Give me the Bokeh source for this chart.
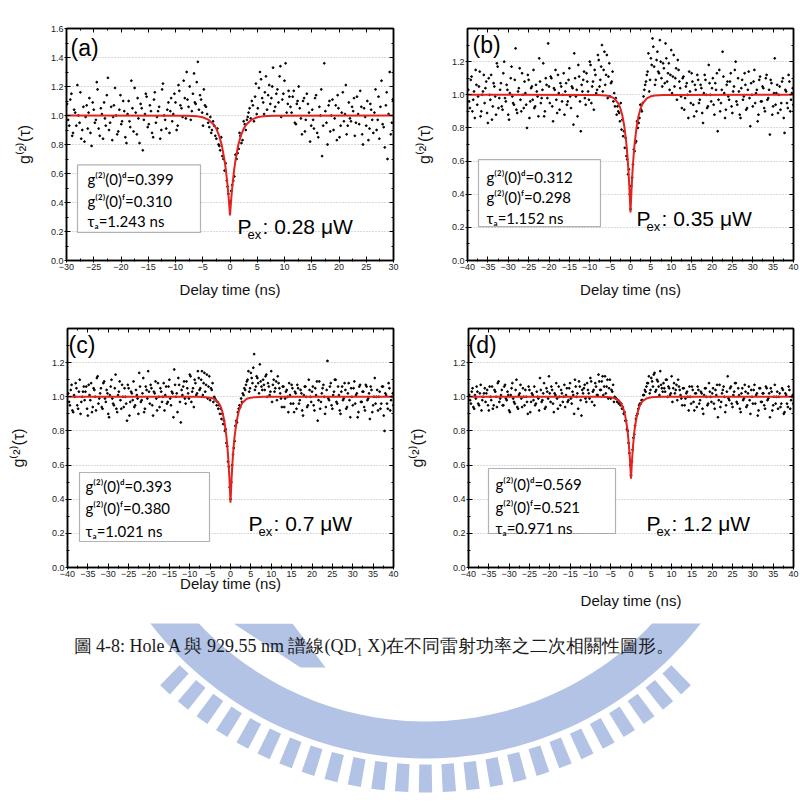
import numpy as np
from bokeh.plotting import figure
from bokeh.layouts import column, row
from bokeh.models import Range1d, LinearAxis, SingleIntervalTicker, BoxAnnotation, PrintfTickFormatter
from bokeh.core.properties import value
from bokeh.embed import file_html
from bokeh.resources import INLINE

# ---------------- data ----------------
delay_60 = [
    -29.9, -29.5, -29.1, -28.8, -28.4, -28.0, -27.6, -27.3, -26.9, -26.5,
    -26.1, -25.8, -25.4, -25.0, -24.6, -24.3, -23.9, -23.5, -23.1, -22.8,
    -22.4, -22.0, -21.6, -21.3, -20.9, -20.5, -20.1, -19.8, -19.4, -19.0,
    -18.6, -18.3, -17.9, -17.5, -17.1, -16.8, -16.4, -16.0, -15.6, -15.3,
    -14.9, -14.5, -14.1, -13.8, -13.4, -13.0, -12.6, -12.3, -11.9, -11.5,
    -11.1, -10.8, -10.4, -10.0, -9.6, -9.3, -8.9, -8.5, -8.1, -7.8,
    -7.4, -7.0, -6.6, -6.3, -5.9, -5.5, -5.1, -4.8, -4.4, -4.0,
    -3.6, -3.3, -2.9, -2.5, -2.1, -1.8, -1.4, -1.0, -0.6, -0.3,
    0.1, 0.4, 0.8, 1.2, 1.6, 1.9, 2.3, 2.7, 3.1, 3.4,
    3.8, 4.2, 4.6, 4.9, 5.3, 5.7, 6.1, 6.4, 6.8, 7.2,
    7.6, 7.9, 8.3, 8.7, 9.1, 9.4, 9.8, 10.2, 10.6, 10.9,
    11.3, 11.7, 12.1, 12.4, 12.8, 13.2, 13.6, 13.9, 14.3, 14.7,
    15.1, 15.4, 15.8, 16.2, 16.6, 16.9, 17.3, 17.7, 18.1, 18.4,
    18.8, 19.2, 19.6, 19.9, 20.3, 20.7, 21.1, 21.4, 21.8, 22.2,
    22.6, 22.9, 23.3, 23.7, 24.1, 24.4, 24.8, 25.2, 25.6, 25.9,
    26.3, 26.7, 27.1, 27.4, 27.8, 28.2, 28.6, 28.9, 29.3, 29.7,
]
g2_a = [
    1.08, 0.93, 1.15, 0.88, 1.02, 1.21, 0.95, 0.84, 1.06, 0.99,
    0.91, 1.12, 0.79, 1.04, 0.97, 1.18, 0.86, 1.01, 1.09, 0.93,
    1.26, 0.95, 0.83, 1.07, 1.00, 0.89, 1.14, 0.96, 1.03, 0.81,
    1.10, 0.92, 1.05, 1.19, 0.87, 0.98, 1.08, 0.76, 1.01, 1.13,
    0.94, 1.03, 0.85, 1.16, 0.99, 1.06, 0.90, 1.22, 0.97, 1.04,
    0.88, 1.12, 1.01, 1.09, 0.93, 1.17, 1.05, 1.24, 0.98, 1.11,
    1.20, 1.03, 1.29, 1.08, 1.37, 1.14, 1.02, 1.18, 1.06, 0.95,
    0.99, 0.90, 0.93, 0.84, 0.80, 0.76, 0.72, 0.62, 0.55, 0.46,
    0.41, 0.52, 0.58, 0.70, 0.77, 0.86, 0.83, 0.94, 0.97, 1.02,
    0.98, 1.07, 1.13, 1.01, 1.19, 1.25, 1.09, 1.16, 1.04, 1.21,
    1.12, 1.33, 1.06, 1.18, 1.27, 0.99, 1.15, 1.36, 1.08, 1.13,
    1.02, 1.17, 0.94, 1.10, 1.05, 0.87, 1.12, 0.97, 1.08, 0.82,
    1.04, 0.91, 1.14, 0.85, 1.00, 0.72, 1.36, 0.95, 1.07, 0.89,
    1.11, 0.98, 0.83, 1.05, 0.93, 1.16, 1.01, 0.87, 1.09, 0.96,
    1.03, 0.86, 1.13, 0.94, 1.06, 0.80, 0.99, 1.10, 0.91, 1.04,
    0.88, 1.18, 0.97, 0.84, 1.24, 0.92, 1.07, 0.70, 1.30, 0.95,
]
delay_60_2 = [
    -29.7, -29.3, -28.95, -28.6, -28.2, -27.8, -27.45, -27.1, -26.7, -26.3,
    -25.95, -25.6, -25.2, -24.8, -24.45, -24.1, -23.7, -23.3, -22.95, -22.6,
    -22.2, -21.8, -21.45, -21.1, -20.7, -20.3, -19.95, -19.6, -19.2, -18.8,
    -18.45, -18.1, -17.7, -17.3, -16.95, -16.6, -16.2, -15.8, -15.45, -15.1,
    -14.7, -14.3, -13.95, -13.6, -13.2, -12.8, -12.45, -12.1, -11.7, -11.3,
    -10.95, -10.6, -10.2, -9.8, -9.45, -9.1, -8.7, -8.3, -7.95, -7.6,
    -7.2, -6.8, -6.45, -6.1, -5.7, -5.3, -4.95, -4.6, -4.2, -3.8,
    -3.45, -3.1, -2.7, -2.3, -1.95, -1.6, -1.2, -0.8, -0.45, -0.1,
    0.25, 0.6, 1.0, 1.4, 1.75, 2.1, 2.5, 2.9, 3.25, 3.6,
    4.0, 4.4, 4.75, 5.1, 5.5, 5.9, 6.25, 6.6, 7.0, 7.4,
    7.75, 8.1, 8.5, 8.9, 9.25, 9.6, 10.0, 10.4, 10.75, 11.1,
    11.5, 11.9, 12.25, 12.6, 13.0, 13.4, 13.75, 14.1, 14.5, 14.9,
    15.25, 15.6, 16.0, 16.4, 16.75, 17.1, 17.5, 17.9, 18.25, 18.6,
    19.0, 19.4, 19.75, 20.1, 20.5, 20.9, 21.25, 21.6, 22.0, 22.4,
    22.75, 23.1, 23.5, 23.9, 24.25, 24.6, 25.0, 25.4, 25.75, 26.1,
    26.5, 26.9, 27.25, 27.6, 28.0, 28.4, 28.75, 29.1, 29.5, 29.85,
]
g2_a_2 = [
    0.97, 1.11, 0.86, 1.04, 0.93, 1.00, 1.16, 0.90, 0.82, 1.07,
    1.02, 0.88, 1.09, 0.95, 1.23, 0.91, 1.05, 0.84, 0.98, 1.14,
    0.90, 1.06, 0.99, 1.19, 0.87, 1.04, 0.94, 1.10, 0.85, 1.01,
    0.96, 1.24, 0.89, 1.02, 1.12, 0.81, 1.05, 0.97, 1.15, 0.92,
    1.07, 0.88, 1.11, 0.95, 1.03, 0.84, 1.18, 1.00, 0.91, 1.09,
    1.03, 0.96, 1.15, 0.90, 1.21, 1.07, 0.99, 1.12, 1.30, 1.06,
    0.97, 1.15, 1.09, 1.23, 1.04, 1.11, 0.93, 1.07, 1.01, 0.92,
    0.88, 0.96, 0.86, 0.91, 0.79, 0.85, 0.70, 0.67, 0.51, 0.40,
    0.48, 0.55, 0.73, 0.74, 0.88, 0.81, 0.96, 0.90, 0.99, 1.05,
    1.10, 0.96, 1.22, 1.05, 1.30, 1.12, 1.01, 1.27, 1.14, 1.08,
    1.20, 1.03, 1.15, 1.09, 1.34, 1.11, 1.24, 1.02, 1.17, 1.06,
    1.13, 0.95, 1.08, 1.20, 0.98, 1.10, 0.89, 1.15, 1.02, 0.93,
    0.97, 1.12, 0.88, 1.06, 1.18, 0.93, 1.03, 0.80, 1.10, 1.00,
    0.90, 1.07, 1.14, 0.85, 1.02, 0.96, 1.21, 0.93, 0.98, 1.06,
    1.12, 0.95, 1.01, 1.17, 0.87, 1.05, 0.93, 0.83, 1.08, 0.97,
    1.02, 0.90, 1.13, 1.06, 0.94, 0.78, 1.16, 1.01, 0.87, 1.11,
]
delay_80 = [
    -39.8, -39.4, -39.0, -38.6, -38.2, -37.8, -37.4, -37.0, -36.6, -36.2,
    -35.8, -35.4, -35.0, -34.6, -34.2, -33.8, -33.4, -33.0, -32.6, -32.2,
    -31.8, -31.4, -31.0, -30.6, -30.2, -29.8, -29.4, -29.0, -28.6, -28.2,
    -27.8, -27.4, -27.0, -26.6, -26.2, -25.8, -25.4, -25.0, -24.6, -24.2,
    -23.8, -23.4, -23.0, -22.6, -22.2, -21.8, -21.4, -21.0, -20.6, -20.2,
    -19.8, -19.4, -19.0, -18.6, -18.2, -17.8, -17.4, -17.0, -16.6, -16.2,
    -15.8, -15.4, -15.0, -14.6, -14.2, -13.8, -13.4, -13.0, -12.6, -12.2,
    -11.8, -11.4, -11.0, -10.6, -10.2, -9.8, -9.4, -9.0, -8.6, -8.2,
    -7.8, -7.4, -7.0, -6.6, -6.2, -5.8, -5.4, -5.0, -4.6, -4.2,
    -3.8, -3.4, -3.0, -2.6, -2.2, -1.8, -1.4, -1.0, -0.6, -0.2,
    0.2, 0.6, 1.0, 1.4, 1.8, 2.2, 2.6, 3.0, 3.4, 3.8,
    4.2, 4.6, 5.0, 5.4, 5.8, 6.2, 6.6, 7.0, 7.4, 7.8,
    8.2, 8.6, 9.0, 9.4, 9.8, 10.2, 10.6, 11.0, 11.4, 11.8,
    12.2, 12.6, 13.0, 13.4, 13.8, 14.2, 14.6, 15.0, 15.4, 15.8,
    16.2, 16.6, 17.0, 17.4, 17.8, 18.2, 18.6, 19.0, 19.4, 19.8,
    20.2, 20.6, 21.0, 21.4, 21.8, 22.2, 22.6, 23.0, 23.4, 23.8,
    24.2, 24.6, 25.0, 25.4, 25.8, 26.2, 26.6, 27.0, 27.4, 27.8,
    28.2, 28.6, 29.0, 29.4, 29.8, 30.2, 30.6, 31.0, 31.4, 31.8,
    32.2, 32.6, 33.0, 33.4, 33.8, 34.2, 34.6, 35.0, 35.4, 35.8,
    36.2, 36.6, 37.0, 37.4, 37.8, 38.2, 38.6, 39.0, 39.4, 39.8,
]
delay_80_2 = [
    -39.6, -39.2, -38.8, -38.4, -38.0, -37.6, -37.2, -36.8, -36.4, -36.0,
    -35.6, -35.2, -34.8, -34.4, -34.0, -33.6, -33.2, -32.8, -32.4, -32.0,
    -31.6, -31.2, -30.8, -30.4, -30.0, -29.6, -29.2, -28.8, -28.4, -28.0,
    -27.6, -27.2, -26.8, -26.4, -26.0, -25.6, -25.2, -24.8, -24.4, -24.0,
    -23.6, -23.2, -22.8, -22.4, -22.0, -21.6, -21.2, -20.8, -20.4, -20.0,
    -19.6, -19.2, -18.8, -18.4, -18.0, -17.6, -17.2, -16.8, -16.4, -16.0,
    -15.6, -15.2, -14.8, -14.4, -14.0, -13.6, -13.2, -12.8, -12.4, -12.0,
    -11.6, -11.2, -10.8, -10.4, -10.0, -9.6, -9.2, -8.8, -8.4, -8.0,
    -7.6, -7.2, -6.8, -6.4, -6.0, -5.6, -5.2, -4.8, -4.4, -4.0,
    -3.6, -3.2, -2.8, -2.4, -2.0, -1.6, -1.2, -0.8, -0.4, 0.0,
    0.4, 0.8, 1.2, 1.6, 2.0, 2.4, 2.8, 3.2, 3.6, 4.0,
    4.4, 4.8, 5.2, 5.6, 6.0, 6.4, 6.8, 7.2, 7.6, 8.0,
    8.4, 8.8, 9.2, 9.6, 10.0, 10.4, 10.8, 11.2, 11.6, 12.0,
    12.4, 12.8, 13.2, 13.6, 14.0, 14.4, 14.8, 15.2, 15.6, 16.0,
    16.4, 16.8, 17.2, 17.6, 18.0, 18.4, 18.8, 19.2, 19.6, 20.0,
    20.4, 20.8, 21.2, 21.6, 22.0, 22.4, 22.8, 23.2, 23.6, 24.0,
    24.4, 24.8, 25.2, 25.6, 26.0, 26.4, 26.8, 27.2, 27.6, 28.0,
    28.4, 28.8, 29.2, 29.6, 30.0, 30.4, 30.8, 31.2, 31.6, 32.0,
    32.4, 32.8, 33.2, 33.6, 34.0, 34.4, 34.8, 35.2, 35.6, 36.0,
    36.4, 36.8, 37.2, 37.6, 38.0, 38.4, 38.8, 39.2, 39.6, 39.95,
]
g2_b = [
    1.03, 0.92, 1.11, 0.97, 0.86, 1.06, 0.99, 1.14, 0.90, 1.02,
    0.95, 1.08, 0.83, 1.00, 1.12, 0.93, 1.05, 0.88, 1.17, 0.98,
    1.07, 0.91, 1.20, 0.96, 1.03, 0.85, 1.10, 0.99, 0.94, 1.28,
    0.89, 1.04, 0.97, 1.13, 0.92, 1.01, 0.80, 1.09, 0.96, 1.05,
    1.15, 0.93, 1.02, 0.87, 1.08, 0.98, 1.19, 0.90, 1.06, 1.31,
    0.95, 1.10, 0.84, 1.03, 0.97, 1.12, 0.91, 1.05, 1.00, 0.88,
    1.07, 0.96, 1.16, 0.92, 1.04, 1.25, 0.99, 0.87, 1.11, 0.78,
    1.02, 1.14, 0.94, 1.08, 0.97, 1.18, 1.05, 0.91, 1.12, 1.03,
    1.21, 1.09, 1.30, 1.15, 1.06, 1.24, 1.11, 0.99, 1.08, 0.96,
    0.93, 0.88, 0.90, 0.84, 0.79, 0.75, 0.68, 0.63, 0.52, 0.40,
    0.45, 0.58, 0.66, 0.72, 0.80, 0.86, 0.91, 0.95, 1.03, 1.08,
    1.14, 1.02, 1.22, 1.34, 1.17, 1.09, 1.26, 1.13, 1.20, 1.05,
    1.16, 1.31, 1.08, 1.19, 1.12, 1.01, 1.24, 1.10, 0.97, 1.15,
    1.04, 0.92, 1.11, 0.98, 1.07, 0.86, 1.02, 1.13, 0.94, 1.06,
    0.90, 1.09, 0.97, 1.04, 0.83, 1.12, 1.00, 0.93, 1.07, 0.96,
    1.10, 0.88, 1.03, 0.78, 1.15, 0.95, 1.26, 1.01, 0.91, 1.08,
    0.97, 1.13, 0.89, 1.05, 1.20, 0.94, 1.02, 0.86, 1.09, 0.99,
    1.06, 0.92, 1.14, 0.81, 1.00, 1.08, 0.95, 1.03, 0.88, 1.11,
    0.96, 1.04, 0.90, 1.12, 0.98, 0.76, 1.07, 0.93, 1.22, 1.01,
    0.89, 1.05, 0.95, 1.10, 0.77, 1.02, 0.92, 1.08, 0.97, 1.04,
]
g2_b_2 = [
    0.96, 1.09, 0.90, 1.02, 1.15, 0.94, 1.05, 0.87, 1.00, 1.12,
    1.04, 0.89, 1.10, 0.97, 0.85, 1.07, 0.99, 1.19, 0.92, 1.03,
    0.93, 1.13, 0.98, 1.06, 0.88, 1.01, 1.17, 0.95, 1.09, 0.91,
    1.02, 1.16, 0.90, 1.00, 1.08, 0.94, 1.12, 0.86, 1.04, 0.97,
    0.92, 1.06, 0.99, 1.22, 0.95, 1.03, 0.87, 1.10, 0.98, 1.05,
    1.11, 0.93, 1.04, 1.15, 0.89, 1.01, 1.07, 0.96, 1.13, 1.02,
    0.94, 1.09, 0.99, 1.05, 0.82, 1.10, 1.03, 1.18, 0.96, 1.06,
    1.09, 0.98, 1.13, 1.02, 1.20, 0.95, 1.08, 1.15, 1.01, 1.24,
    1.05, 1.17, 1.02, 1.26, 1.12, 0.98, 1.19, 1.07, 1.14, 1.01,
    0.98, 0.93, 0.89, 0.95, 0.85, 0.78, 0.74, 0.61, 0.55, 0.31,
    0.50, 0.67, 0.71, 0.84, 0.83, 0.94, 0.90, 0.99, 1.06, 1.12,
    1.25, 1.09, 1.18, 1.29, 1.06, 1.21, 1.14, 1.33, 1.10, 1.19,
    1.07, 1.22, 1.13, 1.03, 1.27, 1.11, 1.05, 1.16, 1.21, 1.08,
    0.99, 1.10, 0.91, 1.05, 1.00, 1.14, 0.95, 1.08, 0.87, 1.03,
    1.12, 0.95, 1.06, 0.89, 1.01, 1.09, 0.92, 1.18, 1.00, 1.04,
    0.94, 1.07, 1.13, 0.97, 0.90, 1.03, 1.11, 0.86, 1.06, 0.99,
    1.08, 0.93, 1.02, 1.15, 0.96, 1.10, 0.88, 1.04, 0.97, 1.13,
    0.91, 1.03, 0.98, 1.07, 0.93, 1.15, 1.01, 0.84, 1.09, 0.96,
    1.05, 0.92, 1.10, 0.97, 1.03, 1.09, 0.88, 1.01, 0.94, 1.06,
    1.00, 0.91, 1.08, 0.86, 1.03, 0.95, 1.12, 0.90, 1.01, 0.94,
]
g2_c = [
    1.02, 0.95, 1.07, 0.91, 1.00, 1.05, 0.93, 1.10, 0.97, 1.03,
    0.98, 1.06, 0.89, 1.01, 1.08, 0.94, 1.04, 0.92, 1.12, 0.99,
    1.05, 0.93, 1.09, 0.97, 1.02, 0.88, 1.06, 0.99, 0.95, 1.13,
    0.91, 1.03, 0.98, 1.07, 0.94, 1.00, 0.86, 1.05, 0.97, 1.02,
    1.09, 0.95, 1.01, 0.90, 1.06, 0.98, 1.11, 0.93, 1.04, 1.15,
    0.96, 1.05, 0.89, 1.02, 0.99, 1.08, 0.94, 1.03, 1.00, 0.92,
    1.06, 0.97, 1.10, 0.95, 1.02, 1.16, 1.00, 0.91, 1.07, 0.85,
    1.01, 1.09, 0.96, 1.05, 0.99, 1.12, 1.03, 0.94, 1.08, 1.02,
    1.11, 1.05, 1.15, 1.08, 1.03, 1.13, 1.06, 0.98, 1.04, 0.97,
    0.99, 0.95, 0.93, 0.90, 0.87, 0.84, 0.80, 0.73, 0.62, 0.47,
    0.50, 0.66, 0.74, 0.86, 0.91, 0.95, 0.99, 1.02, 1.05, 1.07,
    1.10, 1.03, 1.14, 1.08, 1.25, 1.06, 1.11, 1.02, 1.09, 1.04,
    1.07, 1.12, 1.00, 1.06, 1.03, 0.97, 1.10, 1.05, 0.98, 1.08,
    1.02, 0.94, 1.06, 0.99, 1.04, 0.91, 1.01, 1.07, 0.96, 1.03,
    0.93, 1.05, 0.98, 1.02, 0.89, 1.06, 1.00, 0.95, 1.04, 0.97,
    1.06, 0.92, 1.01, 0.86, 1.09, 0.97, 1.05, 1.00, 0.94, 1.21,
    0.98, 1.08, 0.93, 1.03, 1.10, 0.96, 1.01, 0.90, 1.06, 0.99,
    1.04, 0.94, 1.08, 0.88, 1.00, 1.05, 0.96, 1.02, 0.91, 1.07,
    0.97, 1.03, 0.92, 1.06, 0.99, 0.87, 1.04, 0.95, 1.11, 1.00,
    0.92, 1.03, 0.96, 1.06, 0.80, 1.01, 0.93, 1.05, 0.98, 1.02,
]
g2_c_2 = [
    0.97, 1.04, 0.92, 1.01, 1.08, 0.95, 1.03, 0.90, 1.00, 1.06,
    1.03, 0.93, 1.07, 0.98, 0.91, 1.05, 1.00, 1.11, 0.96, 1.02,
    0.94, 1.08, 0.99, 1.04, 0.90, 1.01, 1.10, 0.96, 1.05, 0.93,
    1.01, 1.09, 0.93, 1.00, 1.05, 0.96, 1.07, 0.89, 1.03, 0.98,
    0.94, 1.04, 0.99, 1.14, 0.97, 1.02, 0.91, 1.06, 0.99, 1.03,
    1.07, 0.95, 1.03, 1.09, 0.92, 1.00, 1.05, 0.97, 1.08, 1.01,
    0.96, 1.06, 0.99, 1.03, 0.88, 1.07, 1.02, 1.11, 0.97, 1.04,
    1.06, 0.99, 1.09, 1.02, 1.13, 0.97, 1.05, 1.10, 1.01, 1.15,
    1.04, 1.10, 1.01, 1.14, 1.07, 0.99, 1.12, 1.05, 1.08, 1.00,
    0.98, 0.97, 0.95, 0.93, 0.90, 0.86, 0.81, 0.71, 0.59, 0.40,
    0.60, 0.70, 0.83, 0.85, 0.93, 0.94, 0.97, 1.01, 1.04, 1.09,
    1.15, 1.05, 1.11, 1.17, 1.04, 1.12, 1.08, 1.19, 1.06, 1.10,
    1.04, 1.13, 1.08, 1.01, 1.15, 1.07, 1.03, 1.09, 1.12, 1.05,
    0.99, 1.06, 0.94, 1.03, 1.00, 1.08, 0.96, 1.05, 0.91, 1.02,
    1.07, 0.96, 1.04, 0.92, 1.01, 1.06, 0.94, 1.10, 1.00, 1.03,
    0.95, 1.05, 1.09, 0.98, 0.93, 1.02, 1.07, 0.90, 1.04, 0.99,
    1.06, 0.95, 1.01, 1.10, 0.97, 1.06, 0.92, 1.03, 0.98, 1.08,
    0.93, 1.02, 0.98, 1.05, 0.95, 1.09, 1.01, 0.88, 1.06, 0.97,
    1.03, 0.94, 1.07, 0.98, 1.02, 1.06, 0.91, 1.00, 0.96, 1.04,
    1.00, 0.93, 1.06, 0.89, 1.02, 0.96, 1.08, 0.92, 1.00, 0.95,
]
g2_d = [
    1.01, 0.96, 1.05, 0.93, 0.99, 1.03, 0.95, 1.07, 0.98, 1.02,
    0.97, 1.04, 0.92, 1.00, 1.06, 0.95, 1.03, 0.94, 1.09, 0.99,
    1.04, 0.95, 1.07, 0.98, 1.01, 0.91, 1.05, 0.99, 0.96, 1.10,
    0.93, 1.02, 0.99, 1.05, 0.95, 1.00, 0.90, 1.04, 0.97, 1.01,
    1.06, 0.96, 1.00, 0.92, 1.04, 0.98, 1.08, 0.94, 1.03, 1.12,
    0.97, 1.04, 0.91, 1.01, 0.99, 1.06, 0.95, 1.02, 1.00, 0.94,
    1.05, 0.98, 1.08, 0.96, 1.01, 1.10, 1.00, 0.93, 1.06, 0.89,
    1.02, 1.07, 0.97, 1.04, 0.99, 1.09, 1.03, 0.95, 1.06, 1.01,
    1.09, 1.04, 1.12, 1.06, 1.02, 1.10, 1.05, 0.99, 1.03, 0.97,
    0.99, 0.97, 0.96, 0.95, 0.93, 0.90, 0.86, 0.81, 0.73, 0.60,
    0.62, 0.76, 0.83, 0.89, 0.93, 0.96, 0.98, 1.01, 1.04, 1.06,
    1.08, 1.02, 1.11, 1.06, 1.14, 1.04, 1.09, 1.01, 1.07, 1.03,
    1.05, 1.10, 1.00, 1.05, 1.02, 0.97, 1.08, 1.04, 0.98, 1.06,
    1.01, 0.95, 1.05, 0.99, 1.03, 0.92, 1.00, 1.06, 0.97, 1.02,
    0.94, 1.04, 0.98, 1.02, 0.90, 1.05, 1.00, 0.96, 1.03, 0.97,
    1.05, 0.93, 1.01, 0.88, 1.07, 0.97, 1.04, 1.00, 0.95, 1.12,
    0.98, 1.06, 0.94, 1.03, 1.08, 0.96, 1.01, 0.91, 1.05, 0.99,
    1.03, 0.95, 1.06, 0.90, 1.00, 1.04, 0.96, 1.02, 0.92, 1.05,
    0.97, 1.02, 0.93, 1.05, 0.99, 0.88, 1.03, 0.95, 1.07, 1.00,
    0.93, 1.02, 0.96, 1.04, 0.91, 1.01, 0.94, 1.04, 0.98, 1.01,
]
g2_d_2 = [
    0.98, 1.03, 0.94, 1.01, 1.06, 0.96, 1.02, 0.92, 1.00, 1.05,
    1.02, 0.95, 1.06, 0.98, 0.93, 1.04, 1.00, 1.08, 0.97, 1.01,
    0.95, 1.06, 0.99, 1.03, 0.92, 1.01, 1.08, 0.97, 1.04, 0.94,
    1.01, 1.07, 0.94, 1.00, 1.04, 0.97, 1.06, 0.91, 1.02, 0.98,
    0.95, 1.03, 0.99, 1.11, 0.97, 1.02, 0.93, 1.05, 0.99, 1.02,
    1.06, 0.96, 1.02, 1.08, 0.93, 1.00, 1.04, 0.97, 1.07, 1.01,
    0.97, 1.05, 0.99, 1.03, 0.90, 1.06, 1.02, 1.09, 0.98, 1.04,
    1.05, 0.99, 1.08, 1.02, 1.11, 0.97, 1.04, 1.08, 1.01, 1.13,
    1.04, 1.09, 1.01, 1.12, 1.06, 0.99, 1.10, 1.04, 1.07, 1.00,
    0.99, 0.98, 0.97, 0.96, 0.94, 0.91, 0.86, 0.80, 0.67, 0.54,
    0.69, 0.78, 0.87, 0.90, 0.95, 0.96, 0.98, 1.01, 1.03, 1.08,
    1.12, 1.04, 1.09, 1.13, 1.03, 1.10, 1.06, 1.15, 1.05, 1.08,
    1.03, 1.10, 1.06, 1.01, 1.12, 1.05, 1.02, 1.07, 1.10, 1.04,
    0.99, 1.05, 0.95, 1.02, 1.00, 1.06, 0.96, 1.04, 0.92, 1.02,
    1.06, 0.96, 1.03, 0.93, 1.01, 1.05, 0.95, 1.08, 1.00, 1.02,
    0.96, 1.04, 1.07, 0.98, 0.94, 1.02, 1.06, 0.91, 1.03, 0.99,
    1.05, 0.96, 1.01, 1.08, 0.97, 1.05, 0.93, 1.02, 0.98, 1.07,
    0.94, 1.02, 0.98, 1.04, 0.96, 1.07, 1.01, 0.89, 1.05, 0.97,
    1.02, 0.95, 1.06, 0.98, 1.02, 1.05, 0.92, 1.00, 0.96, 1.03,
    1.00, 0.94, 1.05, 0.90, 1.02, 0.96, 1.06, 0.93, 1.00, 0.96,
]

# fitted curves (red)
fit_x_60 = [-30, -8, -6, -5, -4, -3, -2.5, -2, -1.5, -1, -0.75, -0.5, -0.25, 0,
            0.25, 0.5, 0.75, 1, 1.5, 2, 2.5, 3, 4, 5, 6, 8, 30]
fit_x_80 = [-40, -8, -6, -5, -4, -3, -2.5, -2, -1.5, -1, -0.75, -0.5, -0.25, 0,
            0.25, 0.5, 0.75, 1, 1.5, 2, 2.5, 3, 4, 5, 6, 8, 40]
fit_a = [1.0, 0.999, 0.994, 0.988, 0.972, 0.938, 0.908, 0.862, 0.794, 0.691, 0.622, 0.538, 0.436, 0.31,
         0.436, 0.538, 0.622, 0.691, 0.794, 0.862, 0.908, 0.938, 0.972, 0.988, 0.994, 0.999, 1.0]
fit_b = [1.0, 0.999, 0.996, 0.991, 0.978, 0.948, 0.919, 0.875, 0.807, 0.703, 0.630, 0.541, 0.428, 0.29,
         0.428, 0.541, 0.630, 0.703, 0.807, 0.875, 0.919, 0.948, 0.978, 0.991, 0.996, 0.999, 1.0]
fit_c = [1.0, 1.0, 0.998, 0.995, 0.988, 0.967, 0.947, 0.913, 0.857, 0.767, 0.703, 0.620, 0.515, 0.38,
         0.515, 0.620, 0.703, 0.767, 0.857, 0.913, 0.947, 0.967, 0.988, 0.995, 0.998, 1.0, 1.0]
fit_d = [1.0, 1.0, 0.999, 0.997, 0.992, 0.978, 0.964, 0.939, 0.898, 0.829, 0.778, 0.713, 0.629, 0.52,
         0.629, 0.713, 0.778, 0.829, 0.898, 0.939, 0.964, 0.978, 0.992, 0.997, 0.999, 1.0, 1.0]

panel_letters = ["(a)", "(b)", "(c)", "(d)"]
g2d_text = ["g⁽²⁾(0)ᵈ=0.399", "g⁽²⁾(0)ᵈ=0.312", "g⁽²⁾(0)ᵈ=0.393", "g⁽²⁾(0)ᵈ=0.569"]
g2f_text = ["g⁽²⁾(0)ᶠ=0.310", "g⁽²⁾(0)ᶠ=0.298", "g⁽²⁾(0)ᶠ=0.380", "g⁽²⁾(0)ᶠ=0.521"]
tau_text = ["τₐ=1.243 ns", "τₐ=1.152 ns", "τₐ=1.021 ns", "τₐ=0.971 ns"]
power_text = [": 0.28 μW", ": 0.35 μW", ": 0.7 μW", ": 1.2 μW"]
caption = "圖 4-8: Hole A 與 929.55 nm 譜線(QD₁ X)在不同雷射功率之二次相關性圖形。"

# ---------------- layout (page pixels) ----------------
LAY = [
    dict(fx=0, fy=0, w=400, h=300, left=66, top=27, right=393, bottom=267, xr=(-30, 30), yr=(0, 1.6),
         box=(77, 168, 200, 238), lines=(87, 183, 205, 226), P=(237, 232), xls=8, yls=15),
    dict(fx=400, fy=0, w=400, h=300, left=467, top=28, right=793, bottom=267, xr=(-40, 40), yr=(0, 1.4),
         box=(478, 163, 600, 232), lines=(486, 181, 202, 223), P=(636, 224), xls=8, yls=16),
    dict(fx=0, fy=300, w=400, h=323, left=67, top=328, right=393, bottom=567, xr=(-40, 40), yr=(0, 1.4),
         box=(79, 472, 209, 541), lines=(85, 485, 507, 530), P=(248, 523), xls=-5, yls=22),
    dict(fx=400, fy=300, w=400, h=323, left=468, top=328, right=793, bottom=567, xr=(-40, 40), yr=(0, 1.4),
         box=(488, 468, 615, 533), lines=(495, 483, 506, 527), P=(646, 523), xls=12, yls=24),
]
LETTER_POS = [(70, 34), (472, 32), (68, 331), (468, 331)]

SANS = "Liberation Sans"
BOXFONT = "Lato"


def to_data(L, px, py):
    x0, x1 = L["xr"]
    y0, y1 = L["yr"]
    x = x0 + (px - L["left"]) / (L["right"] - L["left"]) * (x1 - x0)
    y = y1 - (py - L["top"]) / (L["bottom"] - L["top"]) * (y1 - y0)
    return x, y


def style_axis(ax, interval, labels=True):
    ax.ticker = SingleIntervalTicker(interval=interval, num_minor_ticks=2)
    ax.axis_line_color = "black"
    ax.axis_line_width = 1.5
    ax.major_tick_line_color = "black"
    ax.minor_tick_line_color = "black"
    ax.major_tick_in = 4
    ax.major_tick_out = 2
    ax.minor_tick_in = 2
    ax.minor_tick_out = 1
    ax.major_label_text_font = SANS
    if labels:
        ax.major_label_text_color = "#222222"
        ax.major_label_text_font_size = "9px"
        ax.major_label_standoff = 1
    else:
        ax.major_label_text_color = None
        ax.major_label_text_font_size = "1px"
        ax.major_label_standoff = 0


def make_panel(i, xs, ys, xs2, ys2, fx_, fy_):
    L = LAY[i]
    p = figure(width=L["w"], height=L["h"], x_range=Range1d(*L["xr"]), y_range=Range1d(*L["yr"]),
               output_backend="svg", toolbar_location=None,
               min_border_left=L["left"] - L["fx"], min_border_right=L["fx"] + L["w"] - L["right"],
               min_border_top=L["top"] - L["fy"], min_border_bottom=L["fy"] + L["h"] - L["bottom"])
    p.outline_line_color = "black"
    p.outline_line_width = 1.5
    p.background_fill_color = "white"
    p.border_fill_color = None
    p.xgrid.visible = False
    p.ygrid.grid_line_color = "#b4b4b4"
    p.ygrid.grid_line_dash = "1 2"
    p.ygrid.grid_line_width = 1
    p.ygrid.ticker = SingleIntervalTicker(interval=0.2)

    style_axis(p.xaxis[0], 5)
    style_axis(p.yaxis[0], 0.2)
    p.yaxis[0].formatter = PrintfTickFormatter(format="%.1f")
    p.xaxis.axis_label = "Delay time (ns)"
    p.yaxis.axis_label = "g⁽²⁾(τ)"
    for ax, st, fs in ((p.xaxis[0], L["xls"], "15px"), (p.yaxis[0], L["yls"], "16px")):
        ax.axis_label_text_font = SANS
        ax.axis_label_text_font_style = "normal"
        ax.axis_label_text_font_size = fs
        ax.axis_label_text_color = "#111111"
        ax.axis_label_standoff = st
    top_ax = LinearAxis()
    style_axis(top_ax, 5, labels=False)
    top_ax.major_tick_out = 0
    top_ax.minor_tick_out = 0
    p.add_layout(top_ax, "above")
    right_ax = LinearAxis()
    style_axis(right_ax, 0.2, labels=False)
    right_ax.major_tick_out = 0
    right_ax.minor_tick_out = 0
    p.add_layout(right_ax, "right")

    # text box
    bl, bt, br, bb = L["box"]
    x0, y0 = to_data(L, bl, bt)
    x1, y1 = to_data(L, br, bb)
    p.add_layout(BoxAnnotation(left=x0, right=x1, top=y0, bottom=y1, fill_color="white", fill_alpha=1,
                               line_color="black", line_width=1.2, level="underlay"))

    # data
    p.scatter(xs, ys, size=1.8, color="black", marker="circle")
    p.scatter(xs2, ys2, size=1.8, color="black", marker="circle")
    p.line(fx_, fy_, line_color="#e3231f", line_width=2)

    # letter
    lx, ly = to_data(L, *LETTER_POS[i])
    p.text([lx], [ly], text=[panel_letters[i]], text_font=value(SANS), text_font_size="23px",
           text_baseline="top", text_align="left", text_color="black")
    # box lines
    tx, l1, l2, l3 = L["lines"]
    xs_t, ys_t = [], []
    for py in (l1, l2, l3):
        a, b = to_data(L, tx, py)
        xs_t.append(a)
        ys_t.append(b)
    p.text(xs_t, ys_t, text=[g2d_text[i], g2f_text[i], tau_text[i]], text_font=value(BOXFONT),
           text_font_size="15px", text_baseline="middle", text_align="left", text_color="black")
    # P_ex
    px, py = L["P"]
    a, b = to_data(L, px, py)
    p.text([a], [b], text=["P"], text_font=value(SANS), text_font_size="21px",
           text_baseline="alphabetic", text_align="left", text_color="black")
    a, b = to_data(L, px + 10, py + 8)
    p.text([a], [b], text=["ex"], text_font=value(SANS), text_font_size="13px",
           text_baseline="alphabetic", text_align="left", text_color="black")
    a, b = to_data(L, px + 25, py)
    p.text([a], [b], text=[power_text[i]], text_font=value(SANS), text_font_size="21px",
           text_baseline="alphabetic", text_align="left", text_color="black")
    return p


pa = make_panel(0, delay_60, g2_a, delay_60_2, g2_a_2, fit_x_60, fit_a)
pb = make_panel(1, delay_80, g2_b, delay_80_2, g2_b_2, fit_x_80, fit_b)
pc = make_panel(2, delay_80, g2_c, delay_80_2, g2_c_2, fit_x_80, fit_c)
pd = make_panel(3, delay_80, g2_d, delay_80_2, g2_d_2, fit_x_80, fit_d)

# ---------------- bottom: caption + faint watermark ----------------
pe = figure(width=800, height=189, x_range=Range1d(0, 800), y_range=Range1d(-812, -623),
            output_backend="svg", toolbar_location=None, x_axis_type=None, y_axis_type=None,
            min_border=0)
pe.outline_line_color = None
pe.grid.visible = False
cx, cy = 425.0, -410.0
WM = "#b2c3e5"
th = np.radians(np.linspace(-175, -5, 120))
r_in, r_out = 311.0, 348.0
bx = np.concatenate([cx + r_out * np.cos(th), cx + r_in * np.cos(th[::-1])])
by = np.concatenate([cy + r_out * np.sin(th), cy + r_in * np.sin(th[::-1])])
xs_p, ys_p = [list(bx)], [list(by)]
for k in range(25):
    c = np.radians(-133 + k * (86 / 24))
    hw = np.radians(1.0)
    t = np.array([c - hw, c + hw, c + hw, c - hw])
    rr = np.array([354, 354, 382, 382])
    xs_p.append(list(cx + rr * np.cos(t)))
    ys_p.append(list(cy + rr * np.sin(t)))
xs_p.append([233, 292, 325, 300])
ys_p.append([-623, -623, -667, -667])
pe.patches(xs_p, ys_p, fill_color=WM, line_color=None)
pe.text([73], [-645], text=[caption], text_font=value("Liberation Serif"), text_font_size="18px",
        text_baseline="middle", text_align="left", text_color="#1a1a1a")

layout = column(row(pa, pb, spacing=0), row(pc, pd, spacing=0), pe, spacing=0)
open("out.html", "w").write(file_html(layout, INLINE))
